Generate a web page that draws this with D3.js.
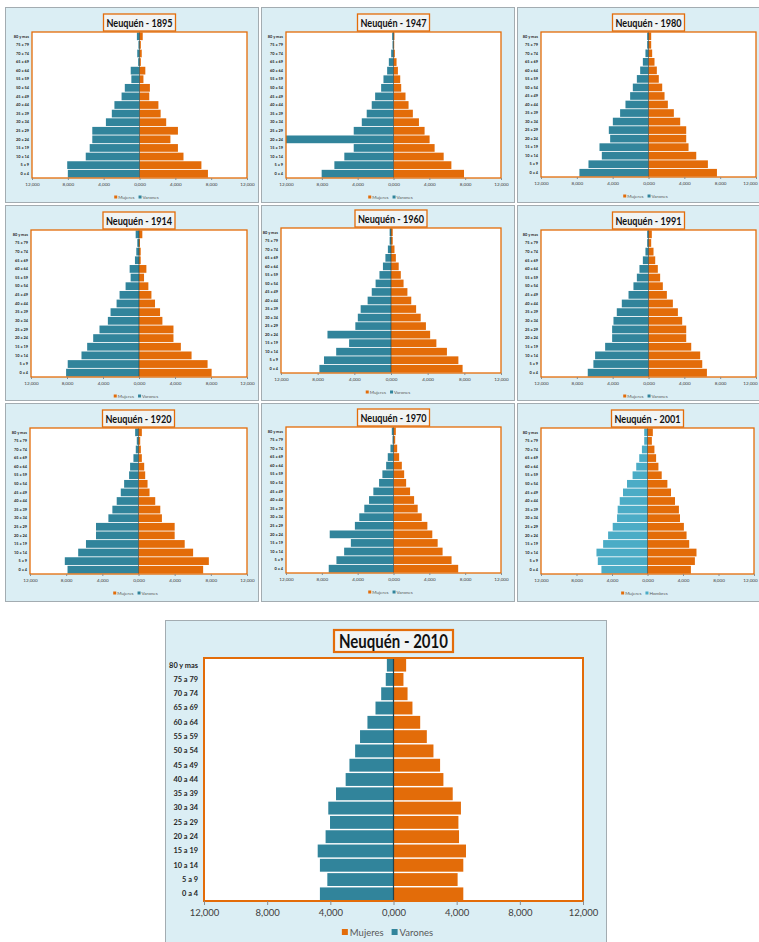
<!DOCTYPE html>
<html>
<head>
<meta charset="utf-8">
<script src="https://cdn.jsdelivr.net/npm/d3@7"></script>
<style>
  body { margin: 0; background: #ffffff; }
  svg { display: block; font-family: Lato, "Open Sans", sans-serif; }
</style>
</head>
<body>
<svg id="chart" width="759" height="942"></svg>
<script>
// Age groups, listed from the top of each pyramid to the bottom
const categories = ["80 y mas","75 a 79","70 a 74","65 a 69","60 a 64","55 a 59","50 a 54","45 a 49","40 a 44","35 a 39","30 a 34","25 a 29","20 a 24","15 a 19","10 a 14","5 a 9","0 a 4"];
const tickValues = [-12000,-8000,-4000,0,4000,8000,12000];
const tickLabels = ["12,000","8,000","4,000","0,000","4,000","8,000","12,000"];

// Population per age group (same order as categories)
const varones1895 = [290,120,250,150,980,910,1640,2000,2800,3090,3750,5270,5270,5560,6000,8070,8000];
const mujeres1895 = [360,150,250,150,650,440,1160,1090,2110,2360,2980,4290,3450,4290,4910,6910,7640];
const varones1947 = [150,110,260,520,710,1120,1380,2050,2430,2990,3540,4440,12000,4440,5490,6600,8020];
const mujeres1947 = [110,80,150,340,490,750,860,1340,1680,2160,2840,3470,4030,4590,5600,6460,7870];
const varones1980 = [150,150,340,630,930,1300,1750,2050,2570,3170,3980,4430,4280,5470,5210,6700,7710];
const mujeres1980 = [300,300,410,670,930,1150,1530,1790,2160,2830,3540,4210,4210,4470,5330,6630,7640];
const varones1914 = [370,190,300,450,1040,930,1490,2160,2490,3160,3460,4390,5090,5760,6390,7920,8100];
const mujeres1914 = [370,110,190,190,820,560,1040,1380,1780,2340,2600,3830,3830,4650,5840,7620,8070];
const varones1960 = [150,150,340,610,880,1260,1680,2100,2550,3310,3620,3890,6930,4570,5980,7310,7810];
const mujeres1960 = [190,190,380,530,840,1070,1370,1790,2210,2740,3240,3810,4270,4950,6100,7350,7810];
const varones1991 = [150,150,340,630,1010,1300,1680,2230,2980,3540,3910,4060,4060,4840,5960,6150,6780];
const mujeres1991 = [370,300,560,750,1040,1300,1600,2050,2720,3280,3760,4210,4210,4770,5770,6000,6520];
const varones1920 = [370,190,300,560,930,1040,1590,1960,2410,2890,3330,4700,4700,5810,6670,8150,7850];
const mujeres1920 = [370,190,260,370,630,740,1000,1220,1850,2410,2590,4000,4000,5110,6040,7780,7150];
const varones1970 = [190,110,340,640,820,1240,1610,2250,2730,3260,3820,4310,7120,4760,5510,6370,7230];
const mujeres1970 = [260,190,410,630,930,1190,1410,1850,2300,2700,3150,3780,4330,4930,5480,6480,7220];
const varones2001 = [370,370,630,930,1270,1680,2310,2760,3130,3360,3430,3920,4440,5000,5750,5600,5190];
const mujeres2001 = [600,490,780,970,1230,1600,2240,2650,3100,3540,3660,4100,4400,4700,5520,5340,4890];
const varones2010 = [420,490,780,1140,1650,2120,2430,2790,3030,3640,4130,4020,4300,4800,4660,4190,4660];
const mujeres2010 = [800,630,890,1200,1690,2110,2530,2950,3160,3750,4270,4110,4150,4590,4420,4060,4420];

const series = {
  1895: [varones1895, mujeres1895], 1947: [varones1947, mujeres1947], 1980: [varones1980, mujeres1980],
  1914: [varones1914, mujeres1914], 1960: [varones1960, mujeres1960], 1991: [varones1991, mujeres1991],
  1920: [varones1920, mujeres1920], 1970: [varones1970, mujeres1970], 2001: [varones2001, mujeres2001],
  2010: [varones2010, mujeres2010]
};

const ORANGE = "#e36c09", TEAL = "#31849b", LIGHTBLUE = "#4bacc6";
const PANEL_BG = "#dbeef4", PANEL_EDGE = "#a3acb1";
const WIDTH = 759;

// Panel frames: outer box and plot area [x0, y0, x1, y1]
const frames = [
  {year:1895, box:[5,7,259,203],   plot:[32,32,247,178]},
  {year:1947, box:[261,7,515,203], plot:[286,32,501,178]},
  {year:1980, box:[517,7,762,203], plot:[541,32,756,177]},
  {year:1914, box:[5,205,259,401], plot:[31,230,247,377]},
  {year:1960, box:[261,205,515,401], plot:[281,228,501,373]},
  {year:1991, box:[517,205,762,401], plot:[541,230,756,377]},
  {year:1920, box:[5,403,259,602], plot:[30,428,247,574]},
  {year:1970, box:[261,403,515,602], plot:[286,427,501,573]},
  {year:2001, box:[517,403,762,602], plot:[541,428,754,574]},
  {year:2010, box:[165,620,607,960], plot:[204,658,583,901], big:true}
];

const svg = d3.select("#chart");
const defs = svg.append("defs");

frames.forEach((f, idx) => {
  const big = !!f.big;
  const [bx0, by0, bx1, by1] = f.box;
  const [px0, py0, px1, py1] = f.plot;
  const [varones, mujeres] = series[f.year];
  const maleColor = f.year === 2001 ? LIGHTBLUE : TEAL;
  const maleName = f.year === 2001 ? "Hombres" : "Varones";

  const g = svg.append("g");

  g.append("rect")
    .attr("x", bx0 + 0.5).attr("y", by0 + 0.5)
    .attr("width", bx1 - bx0 - 1).attr("height", by1 - by0 - 1)
    .attr("fill", PANEL_BG).attr("stroke", PANEL_EDGE).attr("stroke-width", 1);

  const x = d3.scaleLinear().domain([-12000, 12000]).range([px0, px1]);
  const y = d3.scaleBand().domain(categories).range([py0, py1]).paddingInner(0.1).paddingOuter(0.05);

  g.append("rect")
    .attr("x", px0).attr("y", py0)
    .attr("width", px1 - px0).attr("height", py1 - py0)
    .attr("fill", "#ffffff");

  const clipId = "clip" + idx;
  defs.append("clipPath").attr("id", clipId)
    .append("rect").attr("x", px0).attr("y", py0)
    .attr("width", px1 - px0).attr("height", py1 - py0);

  const bars = g.append("g").attr("clip-path", `url(#${clipId})`);

  bars.selectAll("rect.v").data(categories).join("rect")
    .attr("class", "v")
    .attr("x", (d, i) => x(-varones[i]))
    .attr("width", (d, i) => x(0) - x(-varones[i]))
    .attr("y", d => y(d))
    .attr("height", y.bandwidth())
    .attr("fill", maleColor);

  bars.selectAll("rect.m").data(categories).join("rect")
    .attr("class", "m")
    .attr("x", x(0))
    .attr("width", (d, i) => x(mujeres[i]) - x(0))
    .attr("y", d => y(d))
    .attr("height", y.bandwidth())
    .attr("fill", ORANGE);

  // zero axis
  g.append("line")
    .attr("x1", x(0)).attr("x2", x(0))
    .attr("y1", py0).attr("y2", py1)
    .attr("stroke", "#24434c").attr("stroke-width", big ? 1.2 : 0.6);

  // plot area frame
  g.append("rect")
    .attr("x", px0).attr("y", py0)
    .attr("width", px1 - px0).attr("height", py1 - py0)
    .attr("fill", "none").attr("stroke", ORANGE).attr("stroke-width", big ? 2 : 1.3);

  // bottom axis
  const xAxis = g.append("g")
    .attr("transform", `translate(0,${py1})`)
    .call(d3.axisBottom(x).tickValues(tickValues)
      .tickFormat((d, i) => tickLabels[i])
      .tickSize(big ? 4 : 2).tickPadding(big ? 4 : 2.5));
  xAxis.select(".domain").remove();
  xAxis.selectAll(".tick line").attr("stroke", "#8c8c8c");
  xAxis.selectAll(".tick text")
    .attr("fill", "#404040")
    .style("font-size", big ? "9.5px" : "4.6px")
    .style("font-family", "Lato, sans-serif");
  // keep the outermost label inside the page edge
  xAxis.selectAll(".tick text").each(function () {
    const b = this.getBBox();
    const tx = +d3.select(this.parentNode).attr("transform").match(/translate\(([-\d.]+)/)[1];
    const over = tx + b.x + b.width - (WIDTH - 1);
    if (over > 0) d3.select(this).attr("x", -over);
  });

  // category axis
  const yAxis = g.append("g")
    .attr("transform", `translate(${px0},0)`)
    .call(d3.axisLeft(y).tickSize(0).tickPadding(big ? 6 : 3));
  yAxis.select(".domain").remove();
  yAxis.selectAll(".tick text")
    .attr("fill", "#262626")
    .style("font-size", big ? "7.4px" : "3.9px")
    .style("font-weight", "bold")
    .style("font-family", "Lato, sans-serif");

  // title
  const cx = (px0 + px1) / 2;
  const tcy = big ? 641 : py0 - 9.5;
  const tw = big ? 109 : 66;
  const th = big ? 22 : 17;
  g.append("rect")
    .attr("x", cx - tw / 2 - (big ? 5 : 3)).attr("y", tcy - th / 2)
    .attr("width", tw + (big ? 10 : 6)).attr("height", th)
    .attr("fill", "#f1f4f4").attr("stroke", ORANGE).attr("stroke-width", big ? 2.2 : 1.3);
  g.append("text")
    .attr("x", cx).attr("y", tcy)
    .attr("text-anchor", "middle").attr("dominant-baseline", "central")
    .attr("textLength", tw).attr("lengthAdjust", "spacingAndGlyphs")
    .style("font-size", big ? "18px" : "10.5px")
    .style("font-weight", "bold")
    .style("font-family", "Lato, sans-serif")
    .attr("fill", "#111111")
    .text(`Neuquén - ${f.year}`);

  // legend
  const fs = big ? 9.5 : 4.6;
  const sq = big ? 6 : 3;
  const ly = big ? 932 : py1 + 19;
  const items = [{name: "Mujeres", color: ORANGE}, {name: maleName, color: maleColor}];
  const leg = g.append("g");
  let cursor = 0;
  items.forEach(it => {
    const ig = leg.append("g").attr("transform", `translate(${cursor},0)`);
    ig.append("rect").attr("x", 0).attr("y", ly - sq / 2).attr("width", sq).attr("height", sq).attr("fill", it.color);
    const t = ig.append("text")
      .attr("x", sq + (big ? 2 : 1)).attr("y", ly)
      .attr("dominant-baseline", "central")
      .style("font-size", fs + "px")
      .style("font-family", "Lato, sans-serif")
      .attr("fill", "#595959")
      .text(it.name);
    cursor += sq + (big ? 2 : 1) + t.node().getComputedTextLength() + (big ? 8 : 4);
  });
  const legW = cursor - (big ? 8 : 4);
  leg.attr("transform", `translate(${cx - legW / 2 - (big ? 6 : 3)},0)`);
});
</script>
</body>
</html>
